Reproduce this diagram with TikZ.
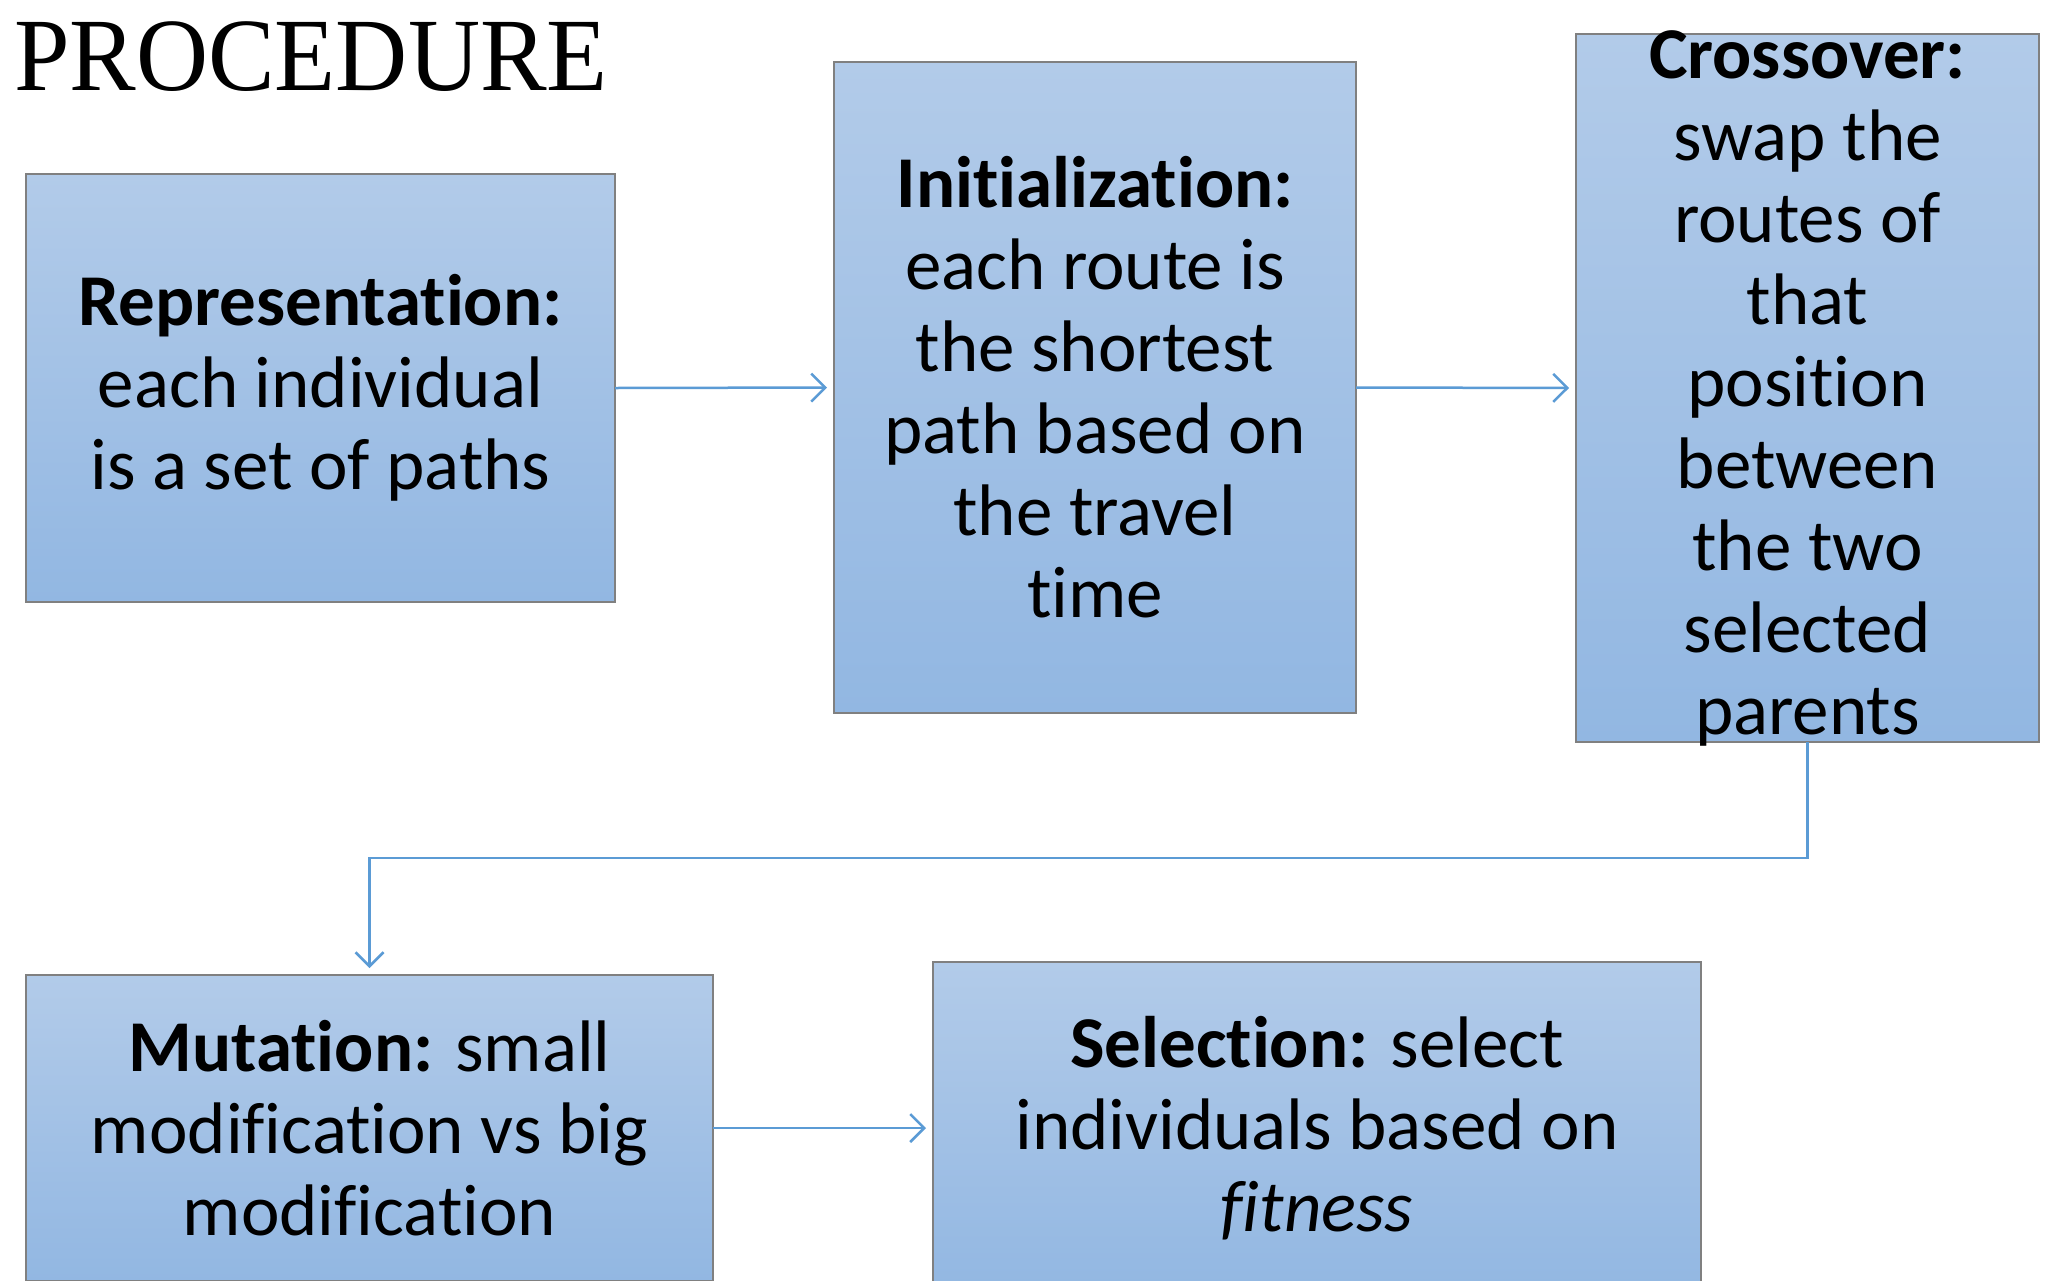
\documentclass[tikz,border=0pt]{standalone}
\usepackage{fontspec}
\setmainfont{Carlito}[Ligatures=NoCommon]
\newfontfamily\titlefont{Liberation Serif}
\usetikzlibrary{arrows.meta}
\definecolor{boxtop}{RGB}{178,203,233}
\definecolor{boxbot}{RGB}{146,183,226}
\definecolor{boxline}{RGB}{128,128,128}
\definecolor{arrowc}{RGB}{91,155,213}
\tikzset{
  stepbox/.style={draw=boxline, line width=1.5pt, top color=boxtop, bottom color=boxbot, inner sep=0pt, outer sep=0pt},
  steptext/.style={align=center, font=\fontsize{73}{82}\selectfont, inner sep=0pt},
  flow/.style={draw=arrowc, line width=2.5pt, -{Straight Barb[length=14pt,width=28pt,line width=2.5pt]}, shorten >=7pt}
}
\begin{document}
\begin{tikzpicture}[x=1pt,y=-1pt]
\useasboundingbox[fill=white] (0,0) rectangle (2052,1280);
\node[anchor=base west, inner sep=0pt, font=\titlefont\fontsize{104}{110}\selectfont, xscale=0.96] (title) at (14,90) {PROCEDURE};

\node[stepbox, minimum width=589pt, minimum height=428pt] (rep) at (320.5,388) {};
\node[stepbox, minimum width=522pt, minimum height=651pt] (init) at (1095,387.5) {};
\node[stepbox, minimum width=463pt, minimum height=708pt] (cross) at (1807.5,388) {};
\node[stepbox, minimum width=687pt, minimum height=306pt] (mut) at (369.5,1128) {};
\node[stepbox, minimum width=768pt, minimum height=332pt] (sel) at (1317,1128) {};

\node[steptext] (reptxt) at (rep.center) {\textbf{Representation:}\\each individual\\is a set of paths};
\node[steptext] (inittxt) at (init.center) {\textbf{Initialization:}\\each route is\\the shortest\\path based on\\the travel\\time};
\node[steptext] (crosstxt) at (cross.center) {\textbf{Crossover:}\\swap the\\routes of\\that\\position\\between\\the two\\selected\\parents};
\node[steptext] (muttxt) at (mut.center) {\textbf{Mutation:} small\\modification vs big\\modification};
\node[steptext] (seltxt) at (sel.center) {\textbf{Selection:} select\\individuals based on\\\textit{fitness}};

\coordinate (c1) at (1807.5,858);
\coordinate (c2) at (369.5,858);
\draw[flow] (rep.east) -- (init.west);
\draw[flow] (init.east) -- (cross.west);
\draw[flow] (cross.south) -- (c1) -- (c2) -- (mut.north);
\draw[flow] (mut.east) -- (sel.west);
\end{tikzpicture}
\end{document}
